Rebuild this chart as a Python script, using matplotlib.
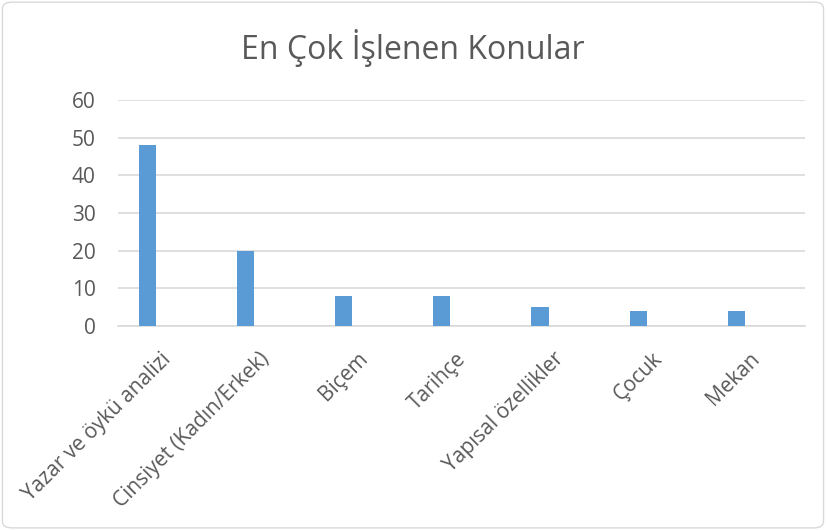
import matplotlib.pyplot as plt
from matplotlib.patches import FancyBboxPatch
from matplotlib.transforms import ScaledTranslation

plt.rcParams['font.family'] = ['Open Sans', 'DejaVu Sans']

konular = ["Yazar ve öykü analizi", "Cinsiyet (Kadın/Erkek)", "Biçem", "Tarihçe",
           "Yapısal özellikler", "Çocuk", "Mekan"]
sayilar = [48, 20, 8, 8, 5, 4, 4]
y_ticks = [0, 10, 20, 30, 40, 50, 60]

gray = "#595959"

fig = plt.figure(figsize=(8.26, 5.30), dpi=100)
ax = fig.add_axes([118/826, 1 - 326/530, (805 - 118)/826, (326 - 100)/530])

x = list(range(len(konular)))
# bars sit left of the category centre (as in an Excel clustered chart)
ax.bar([i - 0.2 for i in x], sayilar, width=0.175, color="#5B9BD5", zorder=3)

ax.set_xlim(-0.5, len(konular) - 0.5)
ax.set_ylim(0, 60)
ax.set_yticks(y_ticks)
ax.yaxis.grid(True, color="#D9D9D9", linewidth=1.2, zorder=0)
for s in ["top", "right", "left"]:
    ax.spines[s].set_visible(False)
ax.spines["bottom"].set_color("#D9D9D9")
ax.spines["bottom"].set_linewidth(1.2)
ax.tick_params(axis="both", length=0, labelsize=15, labelcolor=gray)
ax.tick_params(axis="y", pad=16)

ax.set_xticks(x)
ax.set_xticklabels(konular, rotation=45, ha="right", va="center", rotation_mode="anchor")
off = ScaledTranslation(0.01, -0.25, fig.dpi_scale_trans)
for lab in ax.get_xticklabels():
    lab.set_transform(lab.get_transform() + off)

fig.text(0.5, 1 - 48/530, "En Çok İşlenen Konular", ha="center", va="center",
         fontsize=23, color=gray)

border = FancyBboxPatch((0.003, 0.004), 0.994, 0.992, boxstyle="round,pad=0,rounding_size=0.012",
                        transform=fig.transFigure, fill=False, edgecolor="#D9D9D9", linewidth=1)
fig.patches.append(border)

fig.savefig("out.png", dpi=100)
